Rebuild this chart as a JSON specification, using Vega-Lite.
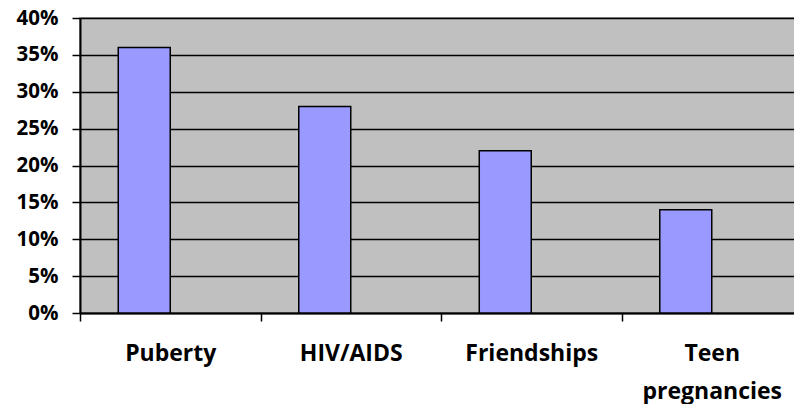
{
  "$schema": "https://vega.github.io/schema/vega-lite/v6.json",
  "autosize": {"type": "none"},
  "padding": {"left": 80, "top": 18, "right": 0, "bottom": 91},
  "width": 715,
  "height": 295,
  "background": "white",
  "config": {
    "view": {"fill": "#C0C0C0", "stroke": "#808080", "strokeWidth": 1.5},
    "font": "Open Sans"
  },
  "data": {
    "values": [
      {"topic": "Puberty", "series": "A", "share": 0.36},
      {"topic": "HIV/AIDS", "series": "A", "share": 0.28},
      {"topic": "Friendships", "series": "A", "share": 0.22},
      {"topic": "Teen pregnancies", "series": "A", "share": 0.14}
    ]
  },
  "mark": {"type": "bar", "fill": "#9999FF", "stroke": "black", "strokeWidth": 1.5},
  "encoding": {
    "x": {
      "field": "topic",
      "type": "nominal",
      "sort": null,
      "scale": {"range": [0, 722], "paddingInner": 0, "paddingOuter": 0},
      "axis": {
        "title": null,
        "labelAngle": 0,
        "labelFont": "Open Sans",
        "labelFontWeight": "bold",
        "labelFontSize": 23,
        "labelColor": "black",
        "labelPadding": 21,
        "labelLineHeight": 38,
        "labelExpr": "datum.value == 'Teen pregnancies' ? ['Teen', 'pregnancies'] : datum.value",
        "tickBand": "extent",
        "tickSize": 8,
        "tickColor": "black",
        "tickWidth": 1.5,
        "domainColor": "black",
        "domainWidth": 2,
        "grid": false
      }
    },
    "xOffset": {
      "field": "series",
      "type": "nominal",
      "scale": {"domain": ["A", "B"], "paddingInner": 0, "paddingOuter": 0.736}
    },
    "y": {
      "field": "share",
      "type": "quantitative",
      "scale": {"domain": [0, 0.4], "nice": false},
      "axis": {
        "title": null,
        "format": ".0%",
        "values": [0, 0.05, 0.1, 0.15, 0.2, 0.25, 0.3, 0.35, 0.4],
        "labelFont": "Open Sans",
        "labelFontWeight": "bold",
        "labelFontSize": 20.5,
        "labelColor": "black",
        "labelPadding": 14,
        "tickSize": 8,
        "tickColor": "black",
        "tickWidth": 1.5,
        "domainColor": "black",
        "domainWidth": 2,
        "grid": true,
        "gridColor": "black",
        "gridWidth": 1.5
      }
    }
  }
}
